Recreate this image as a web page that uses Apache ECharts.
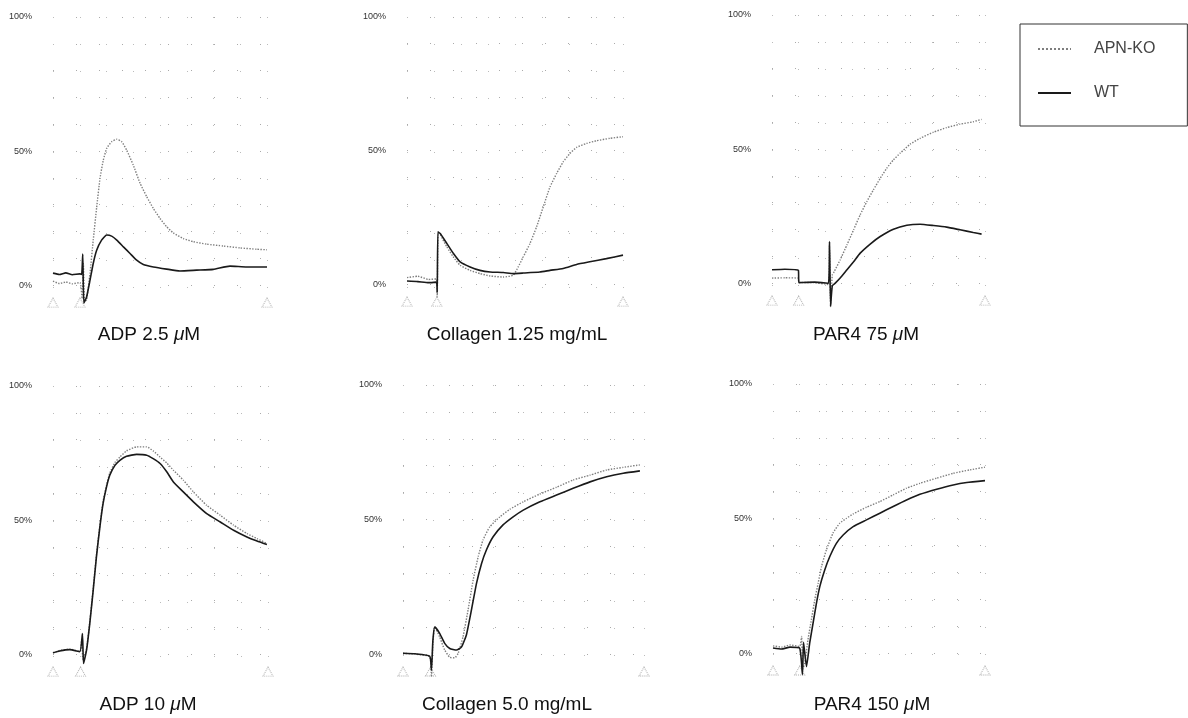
<!DOCTYPE html>
<html><head><meta charset="utf-8">
<script src="https://cdn.jsdelivr.net/npm/echarts@6/dist/echarts.min.js"></script>
<style>html,body{margin:0;padding:0;background:#fff}#c{width:1188px;height:718px}</style>
</head><body><div id="c"></div>
<script>
// ---- data (time in % of recording, value in % aggregation) ----
const titles = [
  ['ADP 2.5 ', 'μ', 'M'],
  ['Collagen 1.25 mg/mL', '', ''],
  ['PAR4 75 ', 'μ', 'M'],
  ['ADP 10 ', 'μ', 'M'],
  ['Collagen 5.0 mg/mL', '', ''],
  ['PAR4 150 ', 'μ', 'M']
];
const yTickLabels = ['0%', '50%', '100%'];

const adp25KO = [[0,1.5],[3,0.6],[6,1.2],[9,0.5],[12.6,1.0],[13.6,-5],[14.2,8],[14.8,-6],[15.7,-5.6],[17.3,4.5],[18.8,16.8],[20.4,29],[22,40],[23.5,46.6],[25.1,51],[27.4,53.5],[29.8,54.4],[32.1,53.5],[34.4,50.4],[37.5,44.8],[40.7,38],[43.8,33],[46.9,28.6],[50,24.9],[53.1,21.8],[56.2,19.5],[60.9,17.4],[65.6,16.2],[71.8,15.3],[79.6,14.6],[87.4,13.9],[95.2,13.4],[100,13.2]];
const adp25WT = [[0,4.5],[3,4.0],[6,4.6],[9,3.9],[12.6,4.2],[13.4,4],[13.9,11.6],[14.4,-6.7],[15.7,-4.4],[17.3,1.9],[18.8,8.1],[20.4,13],[22.7,16.8],[25.1,18.7],[27.4,18.3],[29.8,16.8],[32.9,14.3],[36,11.8],[39.1,9.3],[42.2,7.7],[46.9,6.8],[53.1,6],[59.3,5.3],[67.1,5.6],[74.9,5.9],[82.7,7.1],[90.5,6.8],[100,6.8]];

const col125KO = [[0,2.5],[5,3],[10,1.8],[13.6,2],[14,-4.7],[14.4,18.5],[15.4,18.4],[18.5,13.9],[21.5,10.2],[24.6,7.1],[29.2,5.2],[33.8,4],[38.5,3.1],[44.6,2.7],[49.2,3.4],[51.5,6.5],[53.8,10.2],[56.9,15.2],[60,21.5],[63.1,29],[66.2,36.4],[69.3,41.5],[72.3,45.8],[75.4,48.9],[78.5,51.2],[83.1,52.7],[87.7,53.7],[93.9,54.6],[100,55.2]];
const col125WT = [[0,1.2],[5,1],[10,0.6],[13.6,0.8],[14,-3],[14.3,19.6],[15.4,19],[18.5,15.2],[21.5,11.5],[24.6,8.4],[29.2,6.5],[33.8,5.2],[38.5,4.6],[44.6,4.4],[49.2,4],[53.8,4.2],[61.5,4.6],[66.2,5.2],[72.3,5.9],[78.5,7.4],[84.6,8.4],[92.3,9.6],[100,10.9]];

const par75KO = [[0,1.9],[6,2],[12.4,1.9],[12.6,0.3],[20,0.2],[26.5,-0.5],[27,14],[27.5,-8],[28.3,3],[29.2,4.3],[32,8.7],[35.2,14.3],[38.3,19.9],[41.4,25.5],[44.5,30.4],[47.6,34.8],[50.8,39.1],[53.9,42.9],[57,46],[60.2,48.5],[64.8,51.8],[69.5,54],[75.8,56.3],[82,58],[88.3,59.3],[94.5,60.2],[98.4,61.1]];
const par75WT = [[0,5],[6,5.2],[12.4,4.8],[12.6,0.2],[20,0.4],[26.5,0],[27,15.5],[27.5,-8.7],[28.3,-1],[29.7,0],[32,1.9],[35.2,5],[38.3,8],[41.4,11.2],[46.1,14.6],[50.8,17.4],[57,20.1],[63.3,21.6],[69.5,22],[75.8,21.5],[82,20.9],[88.3,19.9],[94.5,18.9],[98.4,18.3]];

const adp10KO = [[0,0.5],[3.1,1.4],[7.8,1.9],[12.5,1.0],[13.4,6],[13.9,-2],[15.6,2],[17.1,12],[18.7,24.5],[20.2,37],[21.8,48],[23.3,57],[24.9,63],[26.4,67.5],[28.8,71.5],[31.1,73.5],[34.2,75.8],[38.9,77.3],[43.6,77.3],[46.6,75.8],[49.8,73.5],[52.9,71.3],[56,68.6],[60.6,64.9],[65.3,60.5],[71.5,55.5],[77.8,51.8],[84,48.1],[90.2,45],[94.9,43.1],[99.5,41.3]];
const adp10WT = [[0,0.5],[3.1,1.2],[7.8,1.7],[12.5,0.9],[13.7,7.7],[14.2,-3.5],[15.6,1.5],[17.1,11.4],[18.7,23.9],[20.2,36.3],[21.8,47.4],[23.3,56.2],[24.9,62.4],[26.4,66.7],[28.8,70.4],[31.1,72.3],[34.2,73.8],[38.9,74.5],[43.6,74.2],[46.6,72.9],[49.8,71.1],[52.9,68],[56,64.2],[60.6,60.5],[65.3,56.8],[71.5,52.4],[77.8,49.3],[84,46.2],[90.2,43.7],[94.9,42.2],[99.5,40.9]];

const col50KO = [[0,0.3],[5,0],[11.1,-1],[11.8,-8.4],[12.4,4],[13.2,10.1],[15.2,6.4],[17.3,1.5],[19.4,-1.2],[21.5,-1.4],[22.9,0.3],[24.9,6.4],[27,16.4],[29.1,27.5],[31.2,36.2],[33.2,42.4],[36,47.3],[40.2,51],[44.3,53.8],[49.9,56.6],[56.8,59.5],[63.7,62],[70.6,64.7],[77.6,66.5],[84.5,68.4],[91.4,69.4],[98.3,70.3]];
const col50WT = [[0,0.3],[5,0.1],[11.1,-0.8],[11.8,-6],[12.4,5],[13.2,10.1],[15.2,7.7],[17.3,4],[19.4,2.1],[22.2,1.5],[24.3,2.7],[26.3,7.1],[28.4,16.4],[30.5,26.3],[32.6,33.7],[34.6,38.7],[37.4,43.6],[41.5,48],[45.7,51],[49.9,53.5],[56.8,56.6],[63.7,59.1],[70.6,61.6],[77.6,64],[84.5,65.9],[91.4,67.2],[98.3,68.1]];

const par150KO = [[0,2.7],[4,2.2],[8,3],[12.6,2.5],[13.5,6.2],[14,-6],[15,-3.7],[16.5,5],[18.1,12.4],[19.7,19.8],[21.3,26],[22.9,32.2],[25.2,38.4],[28.3,44.6],[31.5,48.3],[34.7,50.1],[37.8,51.7],[44.1,54.2],[50.4,56.3],[56.7,58.8],[63,61.3],[69.3,63.1],[77.2,65],[85,66.8],[92.9,68.1],[100,69.1]];
const par150WT = [[0,1.9],[4,1.5],[8,2.2],[12.6,1.8],[13.9,-8],[14.4,4],[15.8,-5],[17.3,3.7],[18.9,11.1],[20.5,18.6],[22.1,24.8],[24.4,30.9],[26.8,35.9],[29.9,40.8],[33.1,43.9],[37.8,47],[44.1,49.5],[50.4,52],[56.7,54.5],[63,56.9],[69.3,59],[77.2,60.9],[85,62.5],[91.4,63.4],[100,64.1]];

// event markers (start, agonist addition, end)
const markerTimes = [[0,12.6,100],[0,13.8,100],[0,12.5,100],[0,12.8,100],[0,11.4,100],[0,12.6,100]];
const markerLevel = -6.5;

const koSeries = [adp25KO, col125KO, par75KO, adp10KO, col50KO, par150KO];
const wtSeries = [adp25WT, col125WT, par75WT, adp10WT, col50WT, par150WT];

// ---- layout ----
const grids = [
  {left:53, top:17, width:214, height:295},
  {left:407, top:17, width:216, height:294},
  {left:772, top:15, width:213, height:295},
  {left:53, top:386, width:215, height:295},
  {left:403, top:385, width:241, height:296},
  {left:773, top:384, width:212, height:296}
];
const titlePos = [[144,320],[512,320],[861,320],[143,690],[502,690],[867,690]];

const FONT = 'Liberation Sans, Arial, sans-serif';
const KO_COLOR = '#7e7e7e', WT_COLOR = '#1a1a1a';
const option = {
  animation:false,
  backgroundColor:'#fff',
  color:[KO_COLOR, WT_COLOR],
  title: titles.map((t,i)=>({
    text: t[1] ? `{n|${t[0]}}{i|${t[1]}}{n|${t[2]}}` : `{n|${t[0]}}`,
    left: titlePos[i][0], top: titlePos[i][1], textAlign:'center',
    textStyle:{fontWeight:'normal', rich:{
      n:{fontFamily:FONT,fontSize:19,color:'#111',fontWeight:'normal'},
      i:{fontFamily:FONT,fontSize:19,color:'#111',fontStyle:'italic',fontWeight:'normal'}
    }}
  })),
  legend:{
    data:['APN-KO','WT'], orient:'vertical', left:1020, top:24,
    padding:[17,32,25,17], itemWidth:33, itemHeight:14, itemGap:28,
    borderColor:'#333', borderWidth:1, selectedMode:false,
    itemStyle:{opacity:0},
    textStyle:{fontFamily:FONT,fontSize:16,color:'#444',padding:[0,0,0,18]}
  },
  grid: grids.map(g=>Object.assign({containLabel:false},g)),
  xAxis: grids.map((g,i)=>({
    type:'value', gridIndex:i, min:0, max:100, interval:12.5,
    axisLine:{show:false}, axisTick:{show:false}, axisLabel:{show:false},
    splitLine:{show:true, lineStyle:{color:'#bbb', type:[1,26], width:1}}
  })),
  yAxis: grids.map((g,i)=>({
    type:'value', gridIndex:i, min:-10, max:100, interval:10,
    axisLine:{show:false}, axisTick:{show:false},
    axisLabel:{margin:21, fontFamily:FONT, fontSize:9, color:'#333',
      formatter:v=> v===0?yTickLabels[0]: v===50?yTickLabels[1]: v===100?yTickLabels[2]:''},
    splitLine:{show:true, showMinLine:false, lineStyle:{color:'#aaa', type:[1,22], width:1}}
  })),
  series: []
};
for (let i=0;i<6;i++){
  option.series.push({
    name:'APN-KO', type:'line', xAxisIndex:i, yAxisIndex:i, data:koSeries[i],
    symbol:'none', smooth:0.15, z:2,
    itemStyle:{color:KO_COLOR},
    lineStyle:{color:KO_COLOR, width:1.4, type:'dotted'}
  });
  option.series.push({
    name:'WT', type:'line', xAxisIndex:i, yAxisIndex:i, data:wtSeries[i],
    symbol:'none', smooth:0.15, z:3,
    itemStyle:{color:WT_COLOR},
    lineStyle:{color:WT_COLOR, width:1.6, type:'solid'}
  });
  option.series.push({
    name:'marker', type:'scatter', xAxisIndex:i, yAxisIndex:i,
    data:markerTimes[i].map(t=>[t,markerLevel]),
    symbol:'triangle', symbolSize:[10,9], silent:true, z:1,
    itemStyle:{color:'rgba(255,255,255,0)', borderColor:'#999', borderWidth:1, borderType:'dotted'}
  });
}
echarts.init(document.getElementById('c'), null, {renderer:'canvas'}).setOption(option);
</script>
</body></html>
